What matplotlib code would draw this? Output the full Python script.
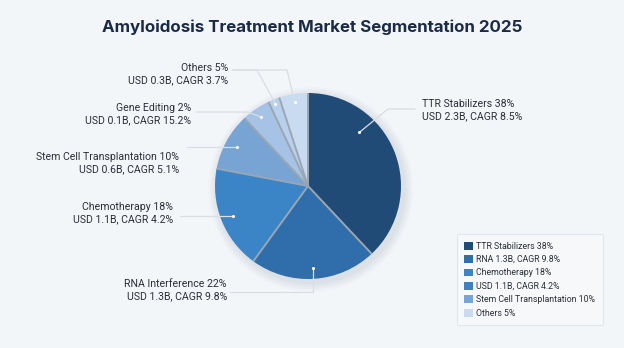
import numpy as np
import matplotlib
matplotlib.use("Agg")
import matplotlib.pyplot as plt
from matplotlib.patches import Patch, Circle

plt.rcParams['font.family'] = ['Roboto', 'DejaVu Sans']

# data
segments = ["TTR Stabilizers", "RNA Interference", "Chemotherapy", "Stem Cell Transplantation",
            "Gene Editing", "Gene Editing (other)", "Others"]
shares = [38, 22, 18, 10, 5, 2, 5]
colors = ["#214b77", "#2f6eaa", "#3b84c6", "#78a4d4", "#a6c3e6", "#b9d0ec", "#c9dbf0"]

label_texts = [
    "TTR Stabilizers 38%\nUSD 2.3B, CAGR 8.5%",
    "RNA Interference 22%\nUSD 1.3B, CAGR 9.8%",
    "Chemotherapy 18%\nUSD 1.1B, CAGR 4.2%",
    "Stem Cell Transplantation 10%\nUSD 0.6B, CAGR 5.1%",
    "Gene Editing 2%\nUSD 0.1B, CAGR 15.2%",
    "Others 5%\nUSD 0.3B, CAGR 3.7%",
]

legend_labels = ["TTR Stabilizers 38%", "RNA 1.3B, CAGR 9.8%", "Chemotherapy 18%",
                 "USD 1.1B, CAGR 4.2%", "Stem Cell Transplantation 10%", "Others 5%"]
legend_colors = ["#214b77", "#2f6eaa", "#3b84c6", "#3f7fbf", "#78a4d4", "#c9dbf0"]

# layout: pixel geometry of the reference
W, H = 624, 348
CX, CY, R = 308, 186, 93


def px(x, y):
    return (x - CX) / R, (CY - y) / R


fig = plt.figure(figsize=(W / 100, H / 100), dpi=100)
fig.patch.set_facecolor("#f3f6f9")
ax = fig.add_axes([0, 0, 1, 1])

# soft shadow under the pie
for k, a in enumerate([0.04, 0.05, 0.05, 0.06]):
    ax.add_patch(Circle((0.03, -0.035), 1.0 + 0.025 * (4 - k), color="#7f8fa3", alpha=a, lw=0, zorder=1))

wedges, _ = ax.pie(shares, colors=colors, startangle=90, counterclock=False, radius=1,
                   wedgeprops=dict(edgecolor="none", linewidth=0))
for w in wedges:
    w.set_zorder(2)
    th = np.deg2rad(w.theta1)
    ax.plot([0, np.cos(th)], [0, np.sin(th)], color="#9aa6b3", lw=1.4, zorder=2.5,
            solid_capstyle="butt")

ax.set_xlim(px(0, 0)[0], px(W, 0)[0])
ax.set_ylim(px(0, H)[1], px(0, 0)[1])
ax.set_aspect("auto")
ax.axis("off")

line_kw = dict(color="#d9dee3", lw=0.9, zorder=3)
dot_kw = dict(color="white", s=5, zorder=4, lw=0)
txt_kw = dict(fontsize=7.6, color="#2b2f36", linespacing=1.25, zorder=5)

# anchor point inside each wedge (fraction of angular span, radius)
anchor_frac = [0.68, 0.5, 0.5, 0.5, 0.5, 0.5, 0.5]
anchor_r = [0.8, 0.88, 0.87, 0.87, 0.9, 0.95, 0.91]
anchors = []
for w, f, r in zip(wedges, anchor_frac, anchor_r):
    th = np.deg2rad(w.theta1 + f * (w.theta2 - w.theta1))
    anchors.append((r * np.cos(th), r * np.sin(th)))

# TTR
a = anchors[0]
bend = px(388, 109)
end = px(415, 109)
ax.plot([a[0], bend[0], end[0]], [a[1], bend[1], end[1]], **line_kw)
ax.text(*px(422, 110), label_texts[0], ha="left", va="center", **txt_kw)

# RNA interference
a = anchors[1]
bend = (a[0], px(0, 292)[1])
end = px(230, 292)
ax.plot([a[0], bend[0], end[0]], [a[1], bend[1], end[1]], **line_kw)
ax.text(*px(227, 290), label_texts[1], ha="right", va="center", **txt_kw)

# Chemotherapy
a = anchors[2]
end = (px(180, 0)[0], a[1])
ax.plot([a[0], end[0]], [a[1], end[1]], **line_kw)
ax.text(*px(173, 213), label_texts[2], ha="right", va="center", **txt_kw)

# Stem cell
a = anchors[3]
end = (px(187, 0)[0], a[1])
ax.plot([a[0], end[0]], [a[1], end[1]], **line_kw)
ax.text(*px(179, 163), label_texts[3], ha="right", va="center", **txt_kw)

# Gene editing
a = anchors[4]
bend = px(247, 112)
end = px(197, 112)
ax.plot([a[0], bend[0], end[0]], [a[1], bend[1], end[1]], **line_kw)
ax.text(*px(191, 114), label_texts[4], ha="right", va="center", **txt_kw)

# Others (two leader lines)
for i, bx in [(5, 257), (6, 287)]:
    a = anchors[i]
    bend = px(bx, 70)
    start = px(233, 70)
    ax.plot([a[0], bend[0], start[0]], [a[1], bend[1], start[1]], **line_kw)
ax.text(*px(228, 74), label_texts[5], ha="right", va="center", **txt_kw)

for a in anchors:
    ax.scatter([a[0]], [a[1]], **dot_kw)

ax.text(*px(312, 27), "Amyloidosis Treatment Market Segmentation 2025", ha="center", va="center",
        fontsize=12.2, fontweight="bold", color="#1c2b45", family=["Inter", "DejaVu Sans"])

handles = [Patch(facecolor=c, edgecolor="none") for c in legend_colors]
leg = ax.legend(handles, legend_labels, loc="lower right", bbox_to_anchor=(0.966, 0.066),
                fontsize=6.3, frameon=True, fancybox=True, handlelength=1.0, handleheight=1.0,
                handletextpad=0.4, labelspacing=0.5, borderpad=0.85, borderaxespad=0)
leg.get_frame().set_facecolor("#f7f9fb")
leg.get_frame().set_edgecolor("#dde2e8")
leg.get_frame().set_linewidth(0.8)
for t in leg.get_texts():
    t.set_color("#2b2f36")

fig.savefig("out.png", dpi=100, facecolor=fig.get_facecolor())
